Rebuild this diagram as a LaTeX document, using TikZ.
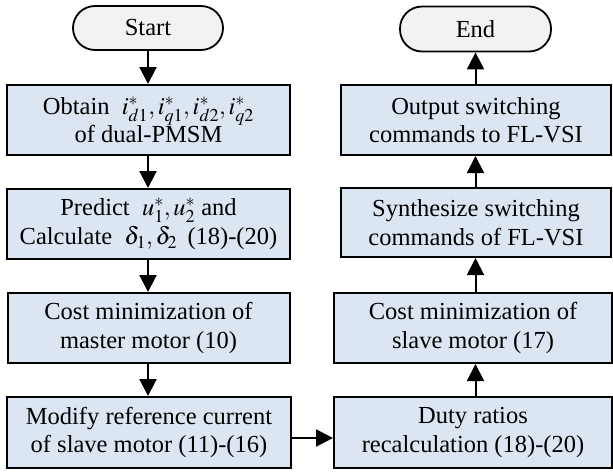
\documentclass[tikz,border=0pt]{standalone}
\usepackage{mathptmx}
\usepackage{fontspec}
\setmainfont{Liberation Serif}
\usetikzlibrary{arrows.meta,calc}
\definecolor{boxblue}{HTML}{DCE6F2}
\definecolor{termgray}{HTML}{F2F2F2}
\begin{document}
\begin{tikzpicture}[x=1pt,y=-1pt,
  every node/.style={font=\fontsize{24.5}{28.5}\selectfont, align=center, inner sep=0pt},
  procbox/.style={draw=black, line width=2pt, fill=boxblue, minimum height=70pt},
  terminal/.style={draw=black, line width=1.8pt, fill=termgray, rounded corners=22pt,
                   minimum width=150pt, minimum height=44pt},
  flow/.style={line width=2pt, -{Triangle[length=17pt,width=17pt]}}
]
\useasboundingbox (0,0) rectangle (613,472);

% left column
\node[terminal] (start) at (148,28) {Start};
\node[procbox, minimum width=283pt] (b1) at (148.5,120)
  {Obtain \ $i^*_{d1},i^*_{q1},i^*_{d2},i^*_{q2}$\\of dual-PMSM};
\node[procbox, minimum width=283pt] (b2) at (148.5,224)
  {Predict \ $u^*_1,u^*_2$ and\\Calculate \ $\delta_1,\delta_2$ \,(18)-(20)};
\node[procbox, minimum width=282pt] (b3) at (148.5,328)
  {Cost minimization of\\master motor (10)};
\node[procbox, minimum width=284pt, minimum height=71pt] (b4) at (149,432.5)
  {Modify reference current\\of slave motor (11)-(16)};

% right column
\node[terminal, minimum width=151pt, minimum height=45pt] (stop) at (475.5,29) {End};
\node[procbox, minimum width=270pt] (r1) at (476,120)
  {Output switching\\commands to FL-VSI};
\node[procbox, minimum width=270pt, minimum height=69pt] (r2) at (476,222.5)
  {Synthesize switching\\commands of FL-VSI};
\node[procbox, minimum width=278pt] (r3) at (473,328)
  {Cost minimization of\\slave motor (17)};
\node[procbox, minimum width=278pt, minimum height=71pt] (r4) at (473,432.5)
  {Duty ratios\\recalculation (18)-(20)};

% connectors
\draw[flow] (start.south) -- (b1.north -| start.south);
\draw[flow] (b1.south -| start.south) -- (b2.north -| start.south);
\draw[flow] (b2.south -| start.south) -- (b3.north -| start.south);
\draw[flow] (b3.south -| start.south) -- (b4.north -| start.south);
\draw[flow] ([yshift=-5.5pt]b4.east) -- ([yshift=-5.5pt]r4.west);
\draw[flow] (r4.north -| stop.south) -- (r3.south -| stop.south);
\draw[flow] (r3.north -| stop.south) -- (r2.south -| stop.south);
\draw[flow] (r2.north -| stop.south) -- (r1.south -| stop.south);
\draw[flow] (r1.north -| stop.south) -- (stop.south);
\end{tikzpicture}
\end{document}
